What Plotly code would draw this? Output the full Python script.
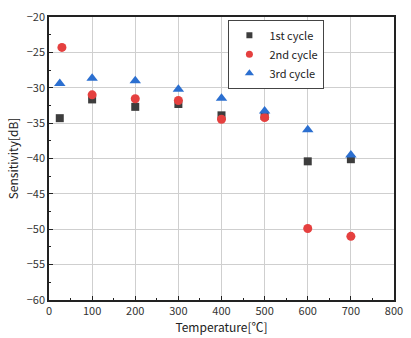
import plotly.graph_objects as go

temps1 = [25, 100, 200, 300, 400, 500, 600, 700]
cycle1 = [-34.3, -31.65, -32.7, -32.3, -33.9, -34.0, -40.4, -40.1]
temps2 = [30, 100, 200, 300, 400, 500, 600, 700]
cycle2 = [-24.3, -31.0, -31.55, -31.8, -34.45, -34.2, -49.9, -51.0]
temps3 = [25, 100, 200, 300, 400, 500, 600, 700]
cycle3 = [-29.4, -28.65, -29.0, -30.2, -31.5, -33.3, -35.95, -39.5]

names = ["1st cycle", "2nd cycle", "3rd cycle"]
colors = ["#3d3d3d", "#e5403f", "#2b6fd0"]
symbols = ["square", "circle", "triangle-up"]
sizes = [8, 9, 10]
legend_sizes = [6, 7, 8]

font = "Noto Sans CJK JP, Noto Sans, sans-serif"

fig = go.Figure()
for xs, ys, n, c, s, sz, lsz in zip([temps1, temps2, temps3], [cycle1, cycle2, cycle3],
                                    names, colors, symbols, sizes, legend_sizes):
    fig.add_trace(go.Scatter(x=xs, y=ys, mode="markers", name=n, legendgroup=n,
                             showlegend=False,
                             marker=dict(symbol=s, size=sz, color=c)))
    fig.add_trace(go.Scatter(x=[None], y=[None], mode="markers", name=n, legendgroup=n,
                             showlegend=True,
                             marker=dict(symbol=s, size=lsz, color=c)))

axis_common = dict(showline=True, linecolor="#222", linewidth=1.5, mirror=True,
                   ticks="inside", ticklen=4, tickcolor="#222",
                   showgrid=True, gridcolor="#cfcfcf", gridwidth=1, zeroline=False,
                   tickfont=dict(size=11, color="#333", family=font))

fig.update_xaxes(range=[0, 800], dtick=100, tick0=0,
                 minor=dict(dtick=50, ticks="inside", ticklen=2, tickcolor="#222", showgrid=False),
                 title=dict(text="Temperature[℃]", font=dict(size=12, color="#222", family=font), standoff=2),
                 **axis_common)
fig.update_yaxes(range=[-60, -20], dtick=5, tick0=-60,
                 minor=dict(dtick=2.5, ticks="inside", ticklen=2, tickcolor="#222", showgrid=False),
                 title=dict(text="Sensitivity[dB]", font=dict(size=12, color="#222", family=font), standoff=6),
                 **axis_common)

fig.update_layout(
    width=411, height=338,
    margin=dict(l=49, r=8, t=15, b=38),
    paper_bgcolor="white", plot_bgcolor="white",
    font=dict(family=font),
    showlegend=True,
    legend=dict(x=0.52, y=0.99, xanchor="left", yanchor="top",
                bordercolor="#444", borderwidth=1, bgcolor="white",
                font=dict(size=11, color="#222", family=font),
                tracegroupgap=0, itemsizing="trace", itemwidth=30),
)

fig.write_html("out.html", config={"displayModeBar": False},
               post_script="document.body.style.margin='0';")
